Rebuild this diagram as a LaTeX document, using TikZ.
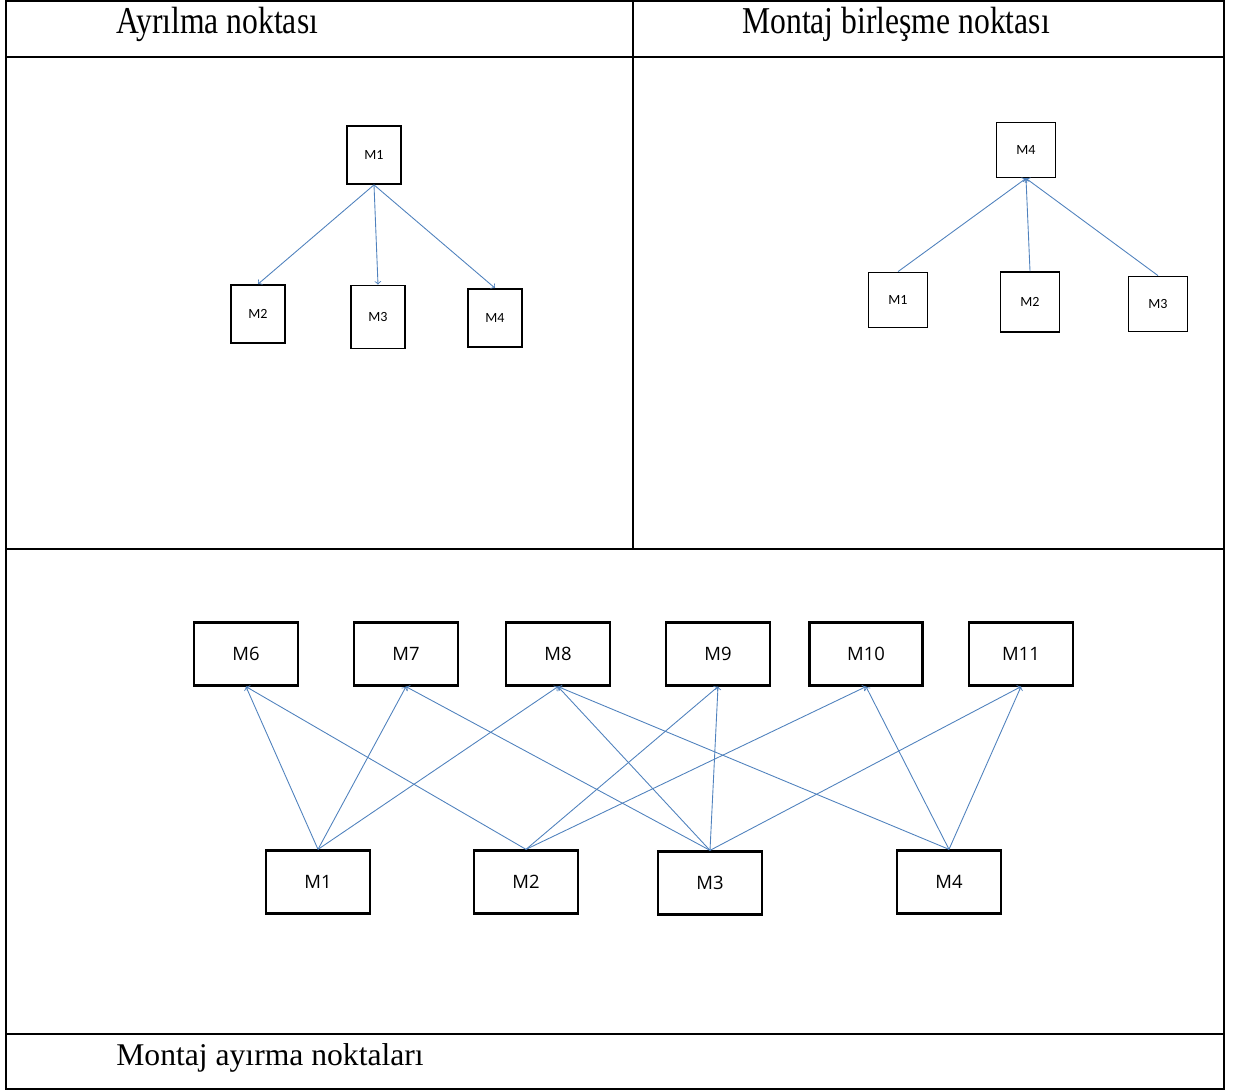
\documentclass[tikz,border=0pt]{standalone}
\usepackage{fontspec}
\usepackage{xcolor}
\setmainfont{Liberation Serif}
\newfontfamily\boxfont{Carlito}
\newfontfamily\geofont{Open Sans}
\definecolor{linkblue}{RGB}{79,129,189}

\begin{document}
\begin{tikzpicture}[x=0.02cm, y=-0.02cm,
    smallbox/.style={draw, line width=1pt, inner sep=0pt, minimum width=1.08cm, minimum height=1.16cm, font=\boxfont\fontsize{8}{10}\selectfont},
    bigbox/.style={draw, line width=1.3pt, inner sep=0pt, minimum width=2.08cm, minimum height=1.26cm, font=\geofont\fontsize{10.5}{12}\selectfont},
    head/.style={anchor=base west, inner sep=0pt, font=\fontsize{18}{22}\selectfont},
    edge/.style={->, draw=linkblue, line width=0.5pt}]
    \useasboundingbox (0,0) rectangle (1241,1091);
    \draw[line width=1.1pt] (6,1) rectangle (1224,1089);
    \draw[line width=1.1pt] (6,57) -- (1224,57);
    \draw[line width=1.1pt] (6,549) -- (1224,549);
    \draw[line width=1.1pt] (6,1034) -- (1224,1034);
    \draw[line width=1.1pt] (633,1) -- (633,549);
    \node[head] (ayhead) at (116,34) {\scalebox{1}[1.2]{Ayrılma noktası}};
    \node[head] (bhead) at (742,34) {\scalebox{1}[1.2]{Montaj birleşme noktası}};
    \node[head] (mhead) at (116,1065) {Montaj ayırma noktaları};
    \node[smallbox] (ayM1) at (374,155) {M1};
    \node[smallbox] (ayM2) at (258,314) {M2};
    \node[smallbox, minimum height=1.26cm] (ayM3) at (378,317) {M3};
    \node[smallbox] (ayM4) at (495,318) {M4};
    \draw[edge] (ayM1.south) -- (ayM2.north);
    \draw[edge] (ayM1.south) -- (ayM3.north);
    \draw[edge] (ayM1.south) -- (ayM4.north);
    \node[smallbox, minimum width=1.18cm, minimum height=1.1cm] (bM4) at (1026,150) {M4};
    \node[smallbox, minimum width=1.18cm, minimum height=1.1cm] (bM1) at (898,300) {M1};
    \node[smallbox, minimum width=1.18cm, minimum height=1.2cm] (bM2) at (1030,302) {M2};
    \node[smallbox, minimum width=1.18cm, minimum height=1.1cm] (bM3) at (1158,304) {M3};
    \draw[edge] (bM1.north) -- (bM4.south);
    \draw[edge] (bM2.north) -- (bM4.south);
    \draw[edge] (bM3.north) -- (bM4.south);
    \node[bigbox] (mM6) at (246,654) {M6};
    \node[bigbox] (mM7) at (406,654) {M7};
    \node[bigbox] (mM8) at (558,654) {M8};
    \node[bigbox] (mM9) at (718,654) {M9};
    \node[bigbox, minimum width=2.26cm] (mM10) at (866,654) {M10};
    \node[bigbox] (mM11) at (1021,654) {M11};
    \node[bigbox] (mM1) at (318,882) {M1};
    \node[bigbox] (mM2) at (526,882) {M2};
    \node[bigbox] (mM3) at (710,883) {M3};
    \node[bigbox] (mM4) at (949,882) {M4};
    \draw[edge] (mM1.north) -- (mM6.south);
    \draw[edge] (mM1.north) -- (mM7.south);
    \draw[edge] (mM1.north) -- (mM8.south);
    \draw[edge] (mM2.north) -- (mM6.south);
    \draw[edge] (mM2.north) -- (mM9.south);
    \draw[edge] (mM2.north) -- (mM10.south);
    \draw[edge] (mM3.north) -- (mM7.south);
    \draw[edge] (mM3.north) -- (mM8.south);
    \draw[edge] (mM3.north) -- (mM9.south);
    \draw[edge] (mM3.north) -- (mM11.south);
    \draw[edge] (mM4.north) -- (mM8.south);
    \draw[edge] (mM4.north) -- (mM10.south);
    \draw[edge] (mM4.north) -- (mM11.south);
\end{tikzpicture}
\end{document}
